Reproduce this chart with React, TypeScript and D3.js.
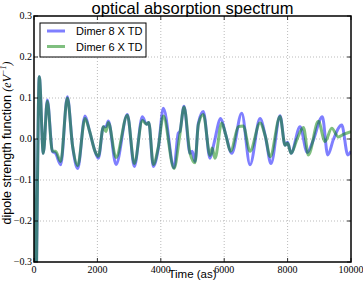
import React, { useRef, useEffect } from 'react';
import * as d3 from 'd3';

// Dimer 8 X TD (blue)
const dimer8Times = [0, 40, 167, 294, 420, 580, 680, 842, 1052, 1220, 1378, 1610, 1750, 1925, 2030, 2190, 2270, 2345, 2587, 2944, 3165, 3417, 3550, 3620, 3764, 3920, 4080, 4417, 4550, 4600, 4733, 4922, 4990, 5080, 5184, 5341, 5553, 5680, 5890, 6050, 6237, 6553, 6815, 7130, 7300, 7477, 7761, 7920, 8000, 8108, 8392, 8620, 8800, 9097, 9266, 9450, 9708, 9900, 10000];
const dimer8Values = [0, -0.45, 0.152, -0.035, 0.095, -0.03, -0.035, -0.063, 0.103, -0.019, -0.072, 0.056, 0.02, -0.03, -0.047, 0.03, 0.03, 0.044, -0.062, 0.06, -0.067, 0.054, 0.036, 0.04, -0.067, -0.023, 0.075, -0.07, 0.014, 0.018, 0.08, -0.035, -0.03, -0.055, 0.038, 0.067, -0.047, -0.01, 0.05, 0.01, -0.035, 0.063, -0.063, 0.05, 0.006, -0.06, 0.057, -0.015, -0.008, -0.035, 0.03, -0.033, -0.005, 0.054, -0.039, 0.0, 0.034, -0.039, -0.03];

// Dimer 6 X TD (green)
const dimer6Times = [0, 40, 167, 294, 420, 580, 680, 842, 1052, 1220, 1378, 1610, 1750, 1925, 2030, 2190, 2270, 2345, 2587, 2944, 3165, 3417, 3550, 3620, 3764, 3920, 4080, 4417, 4600, 4733, 4922, 5080, 5184, 5341, 5553, 5620, 5710, 5921, 6050, 6200, 6450, 6600, 6815, 7130, 7300, 7450, 7761, 7920, 8000, 8108, 8300, 8500, 8655, 8970, 9180, 9392, 9600, 9760, 10000];
const dimer6Values = [0, -0.45, 0.152, -0.035, 0.092, -0.03, -0.03, -0.055, 0.1, -0.019, -0.065, 0.05, 0.02, -0.03, -0.042, 0.03, 0.018, 0.04, -0.045, 0.058, -0.06, 0.045, 0.036, 0.04, -0.062, -0.02, 0.056, -0.072, 0.01, 0.078, -0.035, -0.058, 0.035, 0.06, -0.04, -0.022, -0.047, 0.039, 0.01, -0.03, 0.03, 0.032, -0.03, 0.039, 0.006, -0.043, 0.055, -0.015, -0.01, -0.035, 0.0, 0.028, -0.039, 0.043, -0.006, 0.026, 0.005, 0.011, 0.018];

const yTicks = [-0.3, -0.2, -0.1, 0.0, 0.1, 0.2, 0.3];
const xTicks = [0, 2000, 4000, 6000, 8000, 10000];

const App = () => {
  const chartRef = useRef(null);

  useEffect(() => {
    const svg = d3.select(chartRef.current);
    svg.selectAll("*").remove();

    const margin = { top: 16, right: 12, bottom: 21, left: 34 };
    const width = 363;
    const height = 283;

    const x = d3.scaleLinear().domain([0, 10000]).range([margin.left, width - margin.right]);
    const y = d3.scaleLinear().domain([-0.3, 0.3]).range([height - margin.bottom, margin.top]);

    svg.append("rect").attr("width", width).attr("height", height).attr("fill", "#fff");

    // grid
    svg.append("g").selectAll("line").data(xTicks.slice(1, -1)).join("line")
      .attr("x1", d => x(d)).attr("x2", d => x(d))
      .attr("y1", y(0.3)).attr("y2", y(-0.3))
      .attr("stroke", "#aaa").attr("stroke-width", 0.8).attr("stroke-dasharray", "1,2");
    svg.append("g").selectAll("line").data(yTicks.slice(1, -1)).join("line")
      .attr("y1", d => y(d)).attr("y2", d => y(d))
      .attr("x1", x(0)).attr("x2", x(10000))
      .attr("stroke", "#aaa").attr("stroke-width", 0.8).attr("stroke-dasharray", "1,2");

    svg.append("clipPath").attr("id", "plotclip").append("rect")
      .attr("x", x(0)).attr("y", y(0.3))
      .attr("width", x(10000) - x(0)).attr("height", y(-0.3) - y(0.3));

    const series = [
      { type: "Dimer 8 X TD", times: dimer8Times, values: dimer8Values, color: "#0000ff" },
      { type: "Dimer 6 X TD", times: dimer6Times, values: dimer6Values, color: "#008000" },
    ];

    const line = d3.line()
      .x(d => x(d[0]))
      .y(d => y(d[1]))
      .curve(d3.curveMonotoneX);

    series.forEach(s => {
      svg.append("path")
        .datum(s.times.map((t, i) => [t, s.values[i]]))
        .attr("clip-path", "url(#plotclip)")
        .attr("fill", "none")
        .attr("stroke", s.color)
        .attr("stroke-opacity", 0.5)
        .attr("stroke-width", 3)
        .attr("stroke-linejoin", "round")
        .attr("d", line);
    });

    // frame
    svg.append("rect")
      .attr("x", x(0)).attr("y", y(0.3))
      .attr("width", x(10000) - x(0)).attr("height", y(-0.3) - y(0.3))
      .attr("fill", "none").attr("stroke", "#000").attr("stroke-width", 1.5);

    // ticks (inward)
    const tk = svg.append("g").attr("stroke", "#000").attr("stroke-width", 0.8);
    xTicks.forEach(d => {
      tk.append("line").attr("x1", x(d)).attr("x2", x(d)).attr("y1", y(-0.3)).attr("y2", y(-0.3) - 4);
      tk.append("line").attr("x1", x(d)).attr("x2", x(d)).attr("y1", y(0.3)).attr("y2", y(0.3) + 4);
    });
    yTicks.forEach(d => {
      tk.append("line").attr("x1", x(0)).attr("x2", x(0) + 4).attr("y1", y(d)).attr("y2", y(d));
      tk.append("line").attr("x1", x(10000)).attr("x2", x(10000) - 4).attr("y1", y(d)).attr("y2", y(d));
    });

    // tick labels
    const fmt = d3.format(".1f");
    svg.append("g").selectAll("text").data(yTicks).join("text")
      .attr("x", x(0) - 2).attr("y", d => y(d) + 3)
      .attr("text-anchor", "end")
      .style("font-family", "'Liberation Serif', serif").style("font-size", "10px")
      .text(d => fmt(d).replace("-", "\u2212"));
    svg.append("g").selectAll("text").data(xTicks).join("text")
      .attr("x", d => x(d)).attr("y", y(-0.3) + 11)
      .attr("text-anchor", "middle")
      .style("font-family", "'Liberation Serif', serif").style("font-size", "10px")
      .text(d => String(d));

    // title
    svg.append("text")
      .attr("x", (x(0) + x(10000)) / 2).attr("y", 14)
      .attr("text-anchor", "middle")
      .style("font-family", "'Liberation Sans', Arial, sans-serif")
      .style("font-size", "16.5px")
      .text("optical absorption spectrum");

    // axis labels
    svg.append("text")
      .attr("x", (x(0) + x(10000)) / 2).attr("y", 278)
      .attr("text-anchor", "middle")
      .style("font-family", "'Liberation Sans', Arial, sans-serif")
      .style("font-size", "11.5px")
      .text("Time (as)");

    const yl = svg.append("text")
      .attr("transform", `translate(11,143) rotate(-90)`)
      .attr("text-anchor", "middle")
      .style("font-family", "'Liberation Sans', Arial, sans-serif")
      .style("font-size", "12.5px");
    yl.append("tspan").text("dipole strength function ");
    yl.append("tspan").style("font-family", "'Liberation Serif', serif").style("font-style", "italic").style("font-size", "12px").text("(eV");
    yl.append("tspan").style("font-family", "'Liberation Serif', serif").style("font-style", "italic").style("font-size", "8px").attr("dy", -5).text("\u22121");
    yl.append("tspan").style("font-family", "'Liberation Serif', serif").style("font-style", "italic").style("font-size", "12px").attr("dy", 5).text(")");

    // legend
    const legend = svg.append("g").attr("class", "legend").attr("transform", "translate(40,23)");
    legend.append("rect").attr("width", 106).attr("height", 34)
      .attr("fill", "#fff").attr("stroke", "#000").attr("stroke-width", 1);
    series.forEach((s, i) => {
      const item = legend.append("g").attr("transform", `translate(0,${8 + i * 15.5})`);
      item.append("line").attr("x1", 7).attr("x2", 25).attr("y1", 0).attr("y2", 0)
        .attr("stroke", s.color).attr("stroke-opacity", 0.5).attr("stroke-width", 3);
      item.append("text").attr("x", 36).attr("y", 4)
        .style("font-family", "'Liberation Sans', Arial, sans-serif")
        .style("font-size", "11px")
        .text(s.type);
    });
  }, []);

  return <svg ref={chartRef} width="363" height="283" style={{ position: 'absolute', left: 0, top: 0 }}></svg>;
};

export default App;
